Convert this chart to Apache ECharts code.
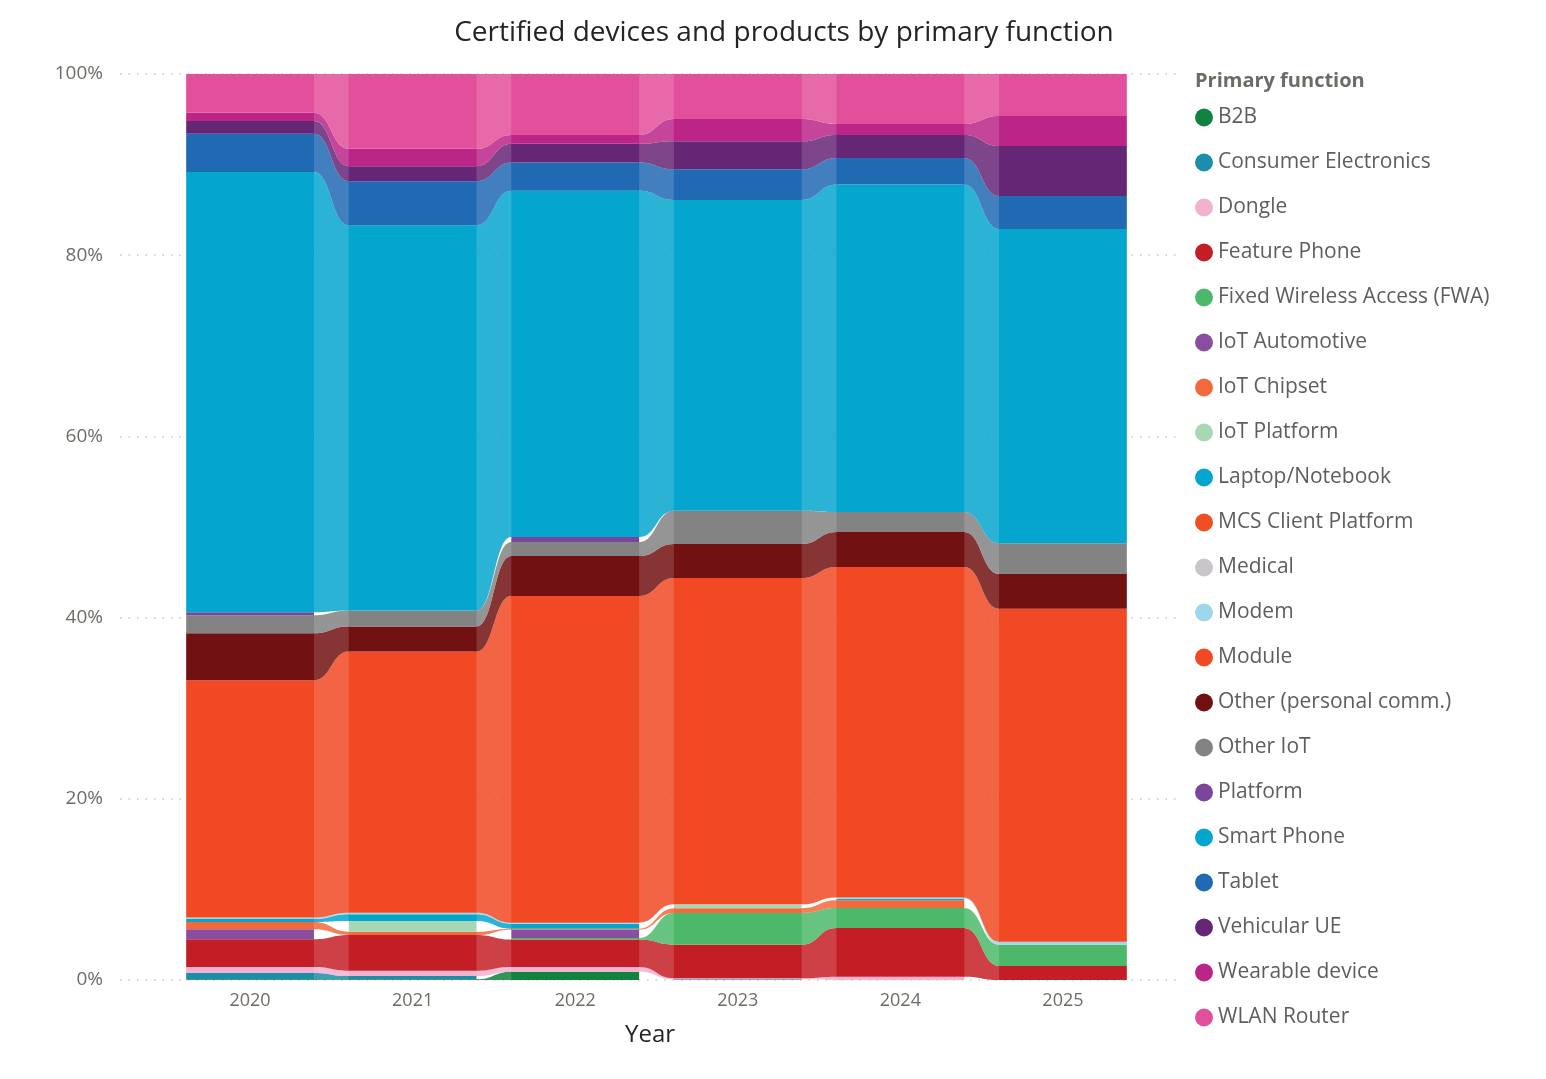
<!DOCTYPE html>
<html>
<head>
<meta charset="utf-8">
<title>Certified devices and products by primary function</title>
<script src="https://cdn.jsdelivr.net/npm/echarts@6/dist/echarts.min.js"></script>
<style>
  html, body { margin: 0; padding: 0; background: #fff; }
  #chart { width: 1546px; height: 1079px; }
</style>
</head>
<body>
<div id="chart"></div>
<script>
// years on the x axis
var years = ['2020', '2021', '2022', '2023', '2024', '2025'];

// legend / stack order (bottom to top)
var functions = [
  'B2B', 'Consumer Electronics', 'Dongle', 'Feature Phone', 'Fixed Wireless Access (FWA)',
  'IoT Automotive', 'IoT Chipset', 'IoT Platform', 'Laptop/Notebook', 'MCS Client Platform',
  'Medical', 'Modem', 'Module', 'Other (personal comm.)', 'Other IoT', 'Platform',
  'Smart Phone', 'Tablet', 'Vehicular UE', 'Wearable device', 'WLAN Router'
];

// share of certified devices per year (%)
var b2b          = [0.08, 0.08, 0.92, 0, 0, 0];
var consumerEl   = [0.7, 0.35, 0, 0.08, 0, 0];
var dongle       = [0.66, 0.6, 0.52, 0.12, 0.37, 0];
var featurePhone = [3.05, 3.94, 3.02, 3.7, 5.37, 1.55];
var fwa          = [0, 0, 0.18, 3.5, 2.2, 2.35];
var iotAuto      = [1.1, 0, 0.92, 0, 0, 0];
var iotChipset   = [0.81, 0.37, 0.11, 0.52, 0.85, 0];
var iotPlatform  = [0, 1.18, 0, 0.43, 0, 0];
var laptop       = [0.33, 0.74, 0.55, 0, 0.18, 0];
var mcsClient    = [0, 0, 0, 0, 0, 0];
var medical      = [0, 0, 0, 0, 0, 0];
var modem        = [0.18, 0.18, 0.11, 0, 0.15, 0.33];
var moduleVals   = [26.16, 28.84, 36.05, 36.02, 36.47, 36.75];
var otherPersonal= [5.19, 2.76, 4.41, 3.75, 3.86, 3.83];
var otherIot     = [1.99, 1.77, 1.55, 3.68, 2.21, 3.39];
var platform     = [0.33, 0, 0.55, 0, 0, 0];
var smartPhone   = [48.58, 42.57, 38.21, 34.3, 36.15, 34.7];
var tablet       = [4.23, 4.86, 3.13, 3.38, 2.94, 3.64];
var vehicular    = [1.4, 1.66, 2.06, 3.09, 2.54, 5.52];
var wearable     = [0.92, 1.91, 0.99, 2.46, 1.21, 3.31];
var wlanRouter   = [4.27, 8.27, 6.72, 4.97, 5.51, 4.63];

var yTicks = [0, 20, 40, 60, 80, 100];

var seriesValues = [
  b2b, consumerEl, dongle, featurePhone, fwa, iotAuto, iotChipset, iotPlatform, laptop,
  mcsClient, medical, modem, moduleVals, otherPersonal, otherIot, platform, smartPhone,
  tablet, vehicular, wearable, wlanRouter
];

var colors = [
  '#118240', '#1A8EAB', '#F2B2CF', '#C31E26', '#4CB96A', '#894EA0', '#F26A3B', '#A7D7B3',
  '#05A6CE', '#F04E23', '#C8C6C8', '#9ED7EA', '#F04923', '#721112', '#838383', '#7A469C',
  '#05A6CE', '#2069B3', '#662676', '#BB2588', '#E24F9B'
];

var HALF = 0.393;   // half bar width, in category units

// 100% stacking
var totals = years.map(function (y, j) {
  return seriesValues.reduce(function (s, arr) { return s + arr[j]; }, 0);
});
var bottoms = [], tops = [];
var running = years.map(function () { return 0; });
seriesValues.forEach(function (arr, k) {
  bottoms[k] = []; tops[k] = [];
  arr.forEach(function (v, j) {
    var share = v / totals[j] * 100;
    bottoms[k][j] = running[j];
    running[j] += share;
    tops[k][j] = running[j];
  });
});

function renderRibbon(params, api) {
  var j = api.value(0);
  var b = api.value(1), t = api.value(2);
  var nb = api.value(3), nt = api.value(4);
  var v = api.value(5), nv = api.value(6);
  if (!(v > 0)) return;
  var color = api.visual('color');
  var children = [];
  var lt = api.coord([j - HALF, t]);
  var rb = api.coord([j + HALF, b]);
  children.push({
    type: 'rect',
    z2: 10,
    shape: { x: lt[0], y: lt[1], width: rb[0] - lt[0], height: rb[1] - lt[1] },
    style: { fill: color }
  });
  if (nv > 0) {
    var p0t = api.coord([j + HALF, t]), p0b = api.coord([j + HALF, b]);
    var p1t = api.coord([j + 1 - HALF, nt]), p1b = api.coord([j + 1 - HALF, nb]);
    var xm = (p0t[0] + p1t[0]) / 2;
    var x0 = p0t[0] - 1, x1 = p1t[0] + 1;   // tuck under the bars to hide seams
    var d = 'M' + x0 + ' ' + p0t[1] +
      ' L' + p0t[0] + ' ' + p0t[1] +
      ' C' + xm + ' ' + p0t[1] + ' ' + xm + ' ' + p1t[1] + ' ' + p1t[0] + ' ' + p1t[1] +
      ' L' + x1 + ' ' + p1t[1] +
      ' L' + x1 + ' ' + p1b[1] +
      ' L' + p1b[0] + ' ' + p1b[1] +
      ' C' + xm + ' ' + p1b[1] + ' ' + xm + ' ' + p0b[1] + ' ' + p0b[0] + ' ' + p0b[1] +
      ' L' + x0 + ' ' + p0b[1] + ' Z';
    children.push({
      type: 'path',
      z2: 0,
      shape: { pathData: d },
      style: { fill: color, opacity: 0.85 }
    });
  }
  return { type: 'group', children: children };
}

var series = functions.map(function (name, k) {
  var data = years.map(function (y, j) {
    var last = j === years.length - 1;
    return [
      j, bottoms[k][j], tops[k][j],
      last ? 0 : bottoms[k][j + 1], last ? 0 : tops[k][j + 1],
      seriesValues[k][j], last ? 0 : seriesValues[k][j + 1]
    ];
  });
  return {
    name: name,
    type: 'custom',
    renderItem: renderRibbon,
    itemStyle: { color: colors[k] },
    encode: { x: 0, y: [1, 2] },
    data: data
  };
});

var chart = echarts.init(document.getElementById('chart'));

var option = {
  backgroundColor: '#ffffff',
  animation: false,
  textStyle: { fontFamily: 'Open Sans' },
  graphic: [
    {
      type: 'text', x: 784, y: 19,
      style: {
        text: 'Certified devices and products by primary function',
        fill: '#252423', font: '400 28px "Open Sans"',
        textAlign: 'center', textVerticalAlign: 'top'
      }
    },
    {
      type: 'text', x: 1195, y: 71,
      style: {
        text: 'Primary function',
        fill: '#6E6A66', font: '700 20px "Open Sans"'
      }
    }
  ],
  legend: {
    orient: 'vertical',
    left: 1195,
    top: 107,
    padding: 0,
    icon: 'circle',
    itemWidth: 18,
    itemHeight: 18,
    itemGap: 24,
    selectedMode: false,
    textStyle: { fontSize: 21, lineHeight: 20, color: '#605E5C', fontFamily: 'Open Sans' },
    data: functions
  },
  grid: { left: 120, right: 366, top: 74, bottom: 99 },
  xAxis: {
    type: 'value',
    min: -0.8,
    max: 5.72,
    name: 'Year',
    nameLocation: 'middle',
    nameGap: 43,
    nameTextStyle: { fontSize: 24, color: '#252423' },
    axisLine: { show: false },
    axisTick: { show: false },
    splitLine: { show: false },
    axisLabel: {
      customValues: [0, 1, 2, 3, 4, 5],
      formatter: function (v) { return years[Math.round(v)]; },
      fontSize: 18,
      color: '#6F6B66',
      margin: 12
    }
  },
  yAxis: {
    type: 'value',
    min: yTicks[0],
    max: yTicks[yTicks.length - 1],
    interval: 20,
    axisLine: { show: false },
    axisTick: { show: false },
    axisLabel: { formatter: '{value}%', fontSize: 19, color: '#6F6B66', margin: 17 },
    splitLine: { lineStyle: { color: '#C8C6C4', width: 1.5, type: [1.5, 7] } }
  },
  series: series
};

chart.setOption(option);

window.addEventListener('resize', function () {
  chart.resize();
});
</script>
</body>
</html>
